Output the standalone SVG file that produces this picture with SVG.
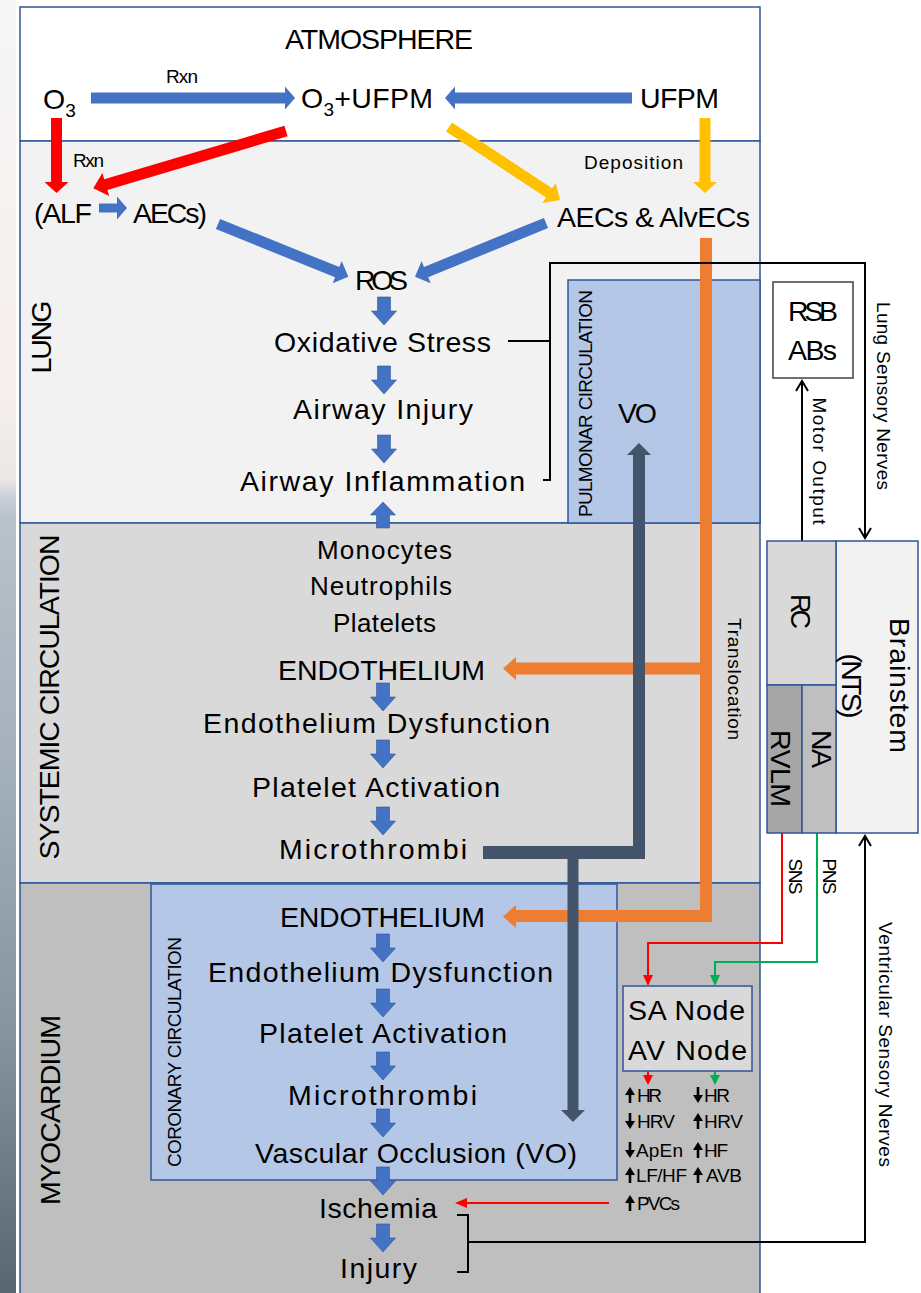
<svg xmlns="http://www.w3.org/2000/svg" width="921" height="1293" viewBox="0 0 921 1293">
<style>
.t{font-family:"Liberation Sans",Arial,sans-serif;fill:#000}
.b{font-size:28.5px}
.m{font-size:26px}
.s{font-size:19px}
.c{text-anchor:middle}
.panel{stroke:#2f5597;stroke-width:1.5}
.blk{fill:none;stroke:#000;stroke-width:2}
.barrow{fill:#4472c4;stroke:#2f5597;stroke-width:0.6}
</style>
<defs>
<linearGradient id="strip" gradientUnits="userSpaceOnUse" x1="0" y1="0" x2="0" y2="1293">
<stop offset="0" stop-color="#f6f6f6"/>
<stop offset="0.3" stop-color="#f5efee"/>
<stop offset="0.37" stop-color="#ece8e8"/>
<stop offset="0.385" stop-color="#c9cfd6"/>
<stop offset="0.4" stop-color="#b7c2cb"/>
<stop offset="0.6" stop-color="#a3afb9"/>
<stop offset="0.8" stop-color="#8694a0"/>
<stop offset="1" stop-color="#59656f"/>
</linearGradient>
<path id="darr" d="M-6.5,0 H6.5 V14 H12.5 L0,28 L-12.5,14 H-6.5 Z"/>
<path id="uarr" d="M0,0 L12.5,13 H6.5 V26 H-6.5 V13 H-12.5 Z"/>
<path id="up" d="M0,0 L5,8 L1.3,8 L1.3,16 L-1.3,16 L-1.3,8 L-5,8 Z"/>
<path id="dn" d="M0,16 L5,8 L1.3,8 L1.3,0 L-1.3,0 L-1.3,8 L-5,8 Z"/>
</defs>
<rect x="0" y="0" width="921" height="1293" fill="#fff"/>
<rect x="0" y="0" width="16" height="1293" fill="url(#strip)"/>

<g id="panels">
<rect id="atmosphere" x="20" y="7" width="740" height="134" fill="#fff" class="panel"/>
<rect id="lung" x="20" y="141" width="740" height="382" fill="#f2f2f2" class="panel"/>
<rect id="systemic" x="20" y="523" width="740" height="360" fill="#d9d9d9" class="panel"/>
<rect id="myocardium" x="20" y="883" width="740" height="420" fill="#bfbfbf" class="panel"/>
<rect id="pulmonary" x="568" y="280" width="192" height="243" fill="#b4c7e7" class="panel"/>
<rect id="coronary" x="151" y="884" width="466" height="296" fill="#b4c7e7" class="panel"/>
</g>

<g id="panel-labels">
<text class="t b c" x="379" y="49" textLength="188">ATMOSPHERE</text>
<text class="t b c" transform="translate(51,337) rotate(-90)" textLength="73">LUNG</text>
<text class="t b c" transform="translate(59,697) rotate(-90)" textLength="325">SYSTEMIC CIRCULATION</text>
<text class="t b c" transform="translate(60,1110) rotate(-90)" textLength="190">MYOCARDIUM</text>
<text class="t s c" transform="translate(592,403.5) rotate(-90)" textLength="227">PULMONAR CIRCULATION</text>
<text class="t s c" transform="translate(181,1052) rotate(-90)" textLength="230">CORONARY CIRCULATION</text>
</g>

<g id="connectors">
<polygon fill="#4472c4" points="91,92.5 285,92.5 285,86.5 295,98 285,109.5 285,103.5 91,103.5"/>
<polygon fill="#4472c4" points="632,92.5 455,92.5 455,86.5 445,98 455,109.5 455,103.5 632,103.5"/>
<polygon fill="#ff0000" points="51,118 62,118 62,182 68.5,182 56.5,193 44.5,182 51,182"/>
<polygon fill="#ff0000" points="284.4,125.7 104.2,179.3 102.4,173.1 93.3,188.3 109.2,196.1 107.4,189.9 287.6,136.3"/>
<polygon fill="#4472c4" points="99,203.5 117,203.5 117,196.5 127,208 117,219.5 117,212.5 99,212.5"/>
<polygon fill="#4472c4" points="215.9,229.1 335.1,277.3 332.7,283.3 348.3,276.7 341.7,261.1 339.3,267.1 220.1,218.9"/>
<polygon fill="#4472c4" points="543.9,217.9 424,267 421.6,261 415,276.7 430.7,283.2 428.2,277.2 548.1,228.1"/>
<polygon fill="#ffc000" points="446,131.6 546.1,197.5 542.5,202.9 560,200 555.7,182.9 552.1,188.3 452,122.4"/>
<polygon fill="#ffc000" points="699.5,118 710.5,118 710.5,182 717,182 705,193 693,182 699.5,182"/>

<use href="#darr" class="barrow" x="384" y="297"/>
<use href="#darr" class="barrow" x="384" y="366"/>
<use href="#darr" class="barrow" x="384" y="435"/>
<use href="#uarr" class="barrow" x="383" y="502"/>
<use href="#darr" class="barrow" x="383" y="683"/>
<use href="#darr" class="barrow" x="383" y="740"/>
<use href="#darr" class="barrow" x="383" y="807"/>
<use href="#darr" class="barrow" x="383" y="934"/>
<use href="#darr" class="barrow" x="383" y="989"/>
<use href="#darr" class="barrow" x="383" y="1052"/>
<use href="#darr" class="barrow" x="383" y="1109"/>
<use href="#darr" class="barrow" x="383" y="1167"/>
<use href="#darr" class="barrow" x="383" y="1224"/>

<path d="M706,238 V916 H514" fill="none" stroke="#ed7d31" stroke-width="12"/>
<path d="M706,668.5 H514" fill="none" stroke="#ed7d31" stroke-width="12"/>
<polygon fill="#ed7d31" points="516,657 503,668.5 516,680"/>
<polygon fill="#ed7d31" points="516,905 503,916.5 516,928"/>

<path d="M483,852.5 H645" fill="none" stroke="#44546a" stroke-width="13"/>
<path d="M639,858 V453" fill="none" stroke="#44546a" stroke-width="12"/>
<polygon fill="#44546a" points="627,455 639,443 651,455"/>
<path d="M573,852 V1111" fill="none" stroke="#44546a" stroke-width="11"/>
<polygon fill="#44546a" points="561,1110 573,1122 585,1110"/>

<path class="blk" d="M508,341 H550"/>
<path class="blk" d="M543,480 H550 V263 H865 V538"/>
<polyline class="blk" points="859,528 865,538 871,528"/>
<path class="blk" d="M802,541 V381"/>
<polyline class="blk" points="796,391 802,381 808,391"/>
<path class="blk" d="M457,1215 H468 V1272 H457"/>
<path class="blk" d="M468,1242 H865 V836"/>
<polyline class="blk" points="859,846 865,836 871,846"/>

<path d="M782,833 V943 H648 V978" fill="none" stroke="#ff0000" stroke-width="2"/>
<polygon fill="#ff0000" points="643,975 653,975 648,986"/>
<path d="M817,833 V962 H715 V978" fill="none" stroke="#00b050" stroke-width="2"/>
<polygon fill="#00b050" points="710,975 720,975 715,986"/>
<path d="M648,1071 V1077" fill="none" stroke="#ff0000" stroke-width="2"/>
<polygon fill="#ff0000" points="643,1075 653,1075 648,1085"/>
<path d="M715,1071 V1077" fill="none" stroke="#00b050" stroke-width="2"/>
<polygon fill="#00b050" points="710,1075 720,1075 715,1085"/>
<path d="M609,1203 H465" fill="none" stroke="#ff0000" stroke-width="2"/>
<polygon fill="#ff0000" points="467,1198 455,1203 467,1208"/>
</g>

<g id="conn-labels">
<text class="t s c" x="182" y="83" textLength="32">Rxn</text>
<text class="t s c" x="88.5" y="167" textLength="31">Rxn</text>
<text class="t s c" x="633.5" y="169" textLength="99">Deposition</text>
<text class="t s c" transform="translate(813,461) rotate(90)" textLength="127">Motor Output</text>
<text class="t s c" transform="translate(877,396) rotate(90)" textLength="188">Lung Sensory Nerves</text>
<text class="t s c" transform="translate(728,679) rotate(90)" textLength="122">Translocation</text>
<text class="t s c" transform="translate(879,1044.5) rotate(90)" textLength="245">Ventricular Sensory Nerves</text>
<text class="t s c" transform="translate(789,876.5) rotate(90)" textLength="36">SNS</text>
<text class="t s c" transform="translate(823,876.5) rotate(90)" textLength="36">PNS</text>
</g>

<g id="n-o3"><text class="t b" x="43" y="109">O<tspan font-size="19" dy="8">3</tspan></text></g>
<g id="n-o3ufpm"><text class="t b" x="301" y="108" textLength="132">O<tspan font-size="19" dy="8">3</tspan><tspan dy="-8">+UFPM</tspan></text></g>
<g id="n-ufpm"><text class="t b c" x="679.5" y="108" textLength="79">UFPM</text></g>
<g id="n-alf"><text class="t b c" x="63" y="223" textLength="58">(ALF</text></g>
<g id="n-aecs"><text class="t b c" x="170" y="223" textLength="74">AECs)</text></g>
<g id="n-aecsalv"><text class="t b c" x="653.5" y="227" textLength="193">AECs &amp; AlvECs</text></g>
<g id="n-ros"><text class="t b c" x="381.5" y="290" textLength="53">ROS</text></g>
<g id="n-ox"><text class="t b c" x="382.5" y="352" textLength="217">Oxidative Stress</text></g>
<g id="n-aw"><text class="t b c" x="383" y="419" textLength="180">Airway Injury</text></g>
<g id="n-awi"><text class="t b c" x="382.5" y="491" textLength="285">Airway Inflammation</text></g>
<g id="n-vo"><text class="t b c" x="637.5" y="423" textLength="39">VO</text></g>
<g id="n-cells">
<text class="t m c" x="384.5" y="559" textLength="135">Monocytes</text>
<text class="t m c" x="381" y="595" textLength="142">Neutrophils</text>
<text class="t m c" x="384.5" y="632" textLength="103">Platelets</text>
</g>
<g id="n-sendo"><text class="t b c" x="381.5" y="680" textLength="207">ENDOTHELIUM</text></g>
<g id="n-sed"><text class="t b c" x="376.5" y="733" textLength="347">Endothelium Dysfunction</text></g>
<g id="n-spa"><text class="t b c" x="376" y="797" textLength="248">Platelet Activation</text></g>
<g id="n-smt"><text class="t b c" x="373" y="859" textLength="188">Microthrombi</text></g>
<g id="n-cendo"><text class="t b c" x="382.5" y="927" textLength="205">ENDOTHELIUM</text></g>
<g id="n-ced"><text class="t b c" x="380.5" y="982" textLength="345">Endothelium Dysfunction</text></g>
<g id="n-cpa"><text class="t b c" x="383" y="1043" textLength="248">Platelet Activation</text></g>
<g id="n-cmt"><text class="t b c" x="382.5" y="1105" textLength="189">Microthrombi</text></g>
<g id="n-cvo"><text class="t b c" x="416" y="1163" textLength="322">Vascular Occlusion (VO)</text></g>
<g id="n-isch"><text class="t b c" x="378" y="1218" textLength="118">Ischemia</text></g>
<g id="n-inj"><text class="t b c" x="378.5" y="1278" textLength="77">Injury</text></g>

<g id="n-rsb">
<rect x="773" y="282" width="80" height="96" fill="#fff" stroke="#404040" stroke-width="1.5"/>
<text class="t b c" x="813" y="321" textLength="50">RSB</text>
<text class="t b c" x="812.5" y="360" textLength="49">ABs</text>
</g>

<g id="n-brainstem">
<rect x="836" y="541" width="82" height="292" fill="#f2f2f2" class="panel"/>
<rect x="767" y="541" width="69" height="144" fill="#d9d9d9" class="panel"/>
<rect x="767" y="685" width="35" height="148" fill="#a6a6a6" class="panel"/>
<rect x="802" y="685" width="34" height="148" fill="#bfbfbf" class="panel"/>
<text class="t c" font-size="27" transform="translate(791,611.5) rotate(90)" textLength="35">RC</text>
<text class="t b c" transform="translate(890,685.5) rotate(90)" textLength="135">Brainstem</text>
<text class="t b c" transform="translate(842,686) rotate(90)" textLength="65">(NTS)</text>
<text class="t b c" transform="translate(812,749) rotate(90)" textLength="38">NA</text>
<text class="t b c" transform="translate(771,768.5) rotate(90)" textLength="77">RVLM</text>
</g>

<g id="n-sanode">
<rect x="623" y="986" width="129" height="85" fill="#d9d9d9" class="panel"/>
<text class="t b c" x="686.5" y="1020" textLength="117">SA Node</text>
<text class="t b c" x="687.5" y="1060" textLength="119">AV Node</text>
</g>

<g id="n-effects">
<use href="#up" x="630" y="1087"/><text class="t s" x="637" y="1102" textLength="25">HR</text>
<use href="#dn" x="630" y="1113"/><text class="t s" x="637" y="1128" textLength="38">HRV</text>
<use href="#dn" x="630" y="1142"/><text class="t s" x="636" y="1157" textLength="47">ApEn</text>
<use href="#up" x="630" y="1167"/><text class="t s" x="636" y="1182" textLength="51">LF/HF</text>
<use href="#up" x="630" y="1195"/><text class="t s" x="637" y="1210" textLength="43">PVCs</text>
<use href="#dn" x="698" y="1087"/><text class="t s" x="704" y="1102" textLength="26">HR</text>
<use href="#up" x="698" y="1113"/><text class="t s" x="704" y="1128" textLength="39">HRV</text>
<use href="#up" x="698" y="1142"/><text class="t s" x="704" y="1157" textLength="24">HF</text>
<use href="#up" x="698" y="1167"/><text class="t s" x="706" y="1182" textLength="36">AVB</text>
</g>
</svg>
